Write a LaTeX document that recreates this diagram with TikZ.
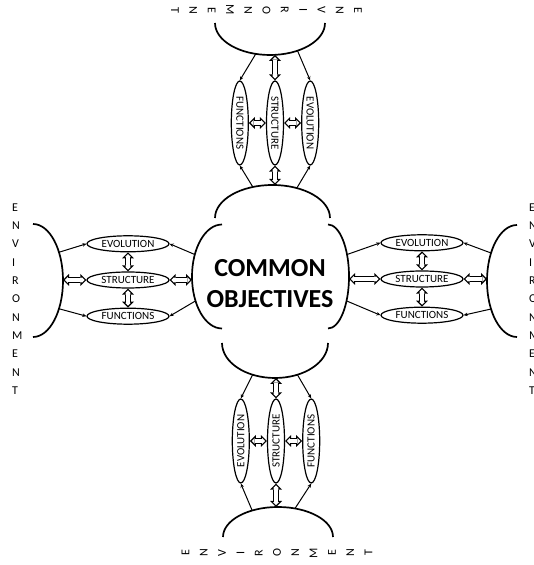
\documentclass[tikz,border=0pt]{standalone}
\usepackage{fontspec}
\setmainfont{Carlito}
\usepackage{graphicx}
\usetikzlibrary{arrows.meta, positioning, shapes.geometric}

\newcommand{\entorno}{E\\N\\V\\I\\R\\O\\N\\M\\E\\N\\T}

\begin{document}
\begin{tikzpicture}[
  x=1pt, y=1pt,
  node distance=19pt and 17pt,
  elipse/.style={draw, ellipse, line width=1.2pt, inner sep=0pt,
                 font=\fontsize{11}{12}\selectfont},
  elipseh/.style={elipse, minimum width=82pt, minimum height=16pt},
  elipsev/.style={elipse, minimum width=17pt, minimum height=84pt},
  arco/.style={line width=1.7pt},
  flecha/.style={line width=1pt, -{Stealth[length=4pt, width=3.5pt]}},
  dobleflecha/.style={line width=3.2pt, white, shorten >=1.85pt, shorten <=1.85pt,
      {Triangle[length=2.9pt, width=5.8pt, line width=0pt]}-{Triangle[length=2.9pt, width=5.8pt, line width=0pt]},
      preaction={draw, black, line width=6pt, shorten >=0pt, shorten <=0pt,
      {Triangle[length=6pt, width=12pt, line width=0pt]}-{Triangle[length=6pt, width=12pt, line width=0pt]}}},
  letras/.style={align=left, inner sep=0pt, font=\fontsize{12}{18.3}\selectfont},
  letrasgiro/.style={letras, align=center},
  centro/.style={align=center, inner sep=0pt,
                 font=\bfseries\fontsize{26}{31}\selectfont}
]
\useasboundingbox (0,0) rectangle (533,565);

% centro
\node[centro] (core) at (270,281) {COMMON\\OBJECTIVES};
\draw[arco] (215,347) arc[start angle=180, end angle=0, x radius=57.5, y radius=33];
\draw[arco] (222,222) arc[start angle=180, end angle=360, x radius=53, y radius=35];
\draw[arco] (222,340.5) arc[start angle=90, end angle=270, x radius=30, y radius=52];
\draw[arco] (328,340.5) arc[start angle=90, end angle=-90, x radius=21, y radius=52];

% entornos
\draw[arco] (33,341) arc[start angle=90, end angle=-90, x radius=30, y radius=56.5];
\draw[arco] (517,340) arc[start angle=90, end angle=270, x radius=30, y radius=56];
\draw[arco] (215,542) arc[start angle=180, end angle=360, x radius=55, y radius=32];
\draw[arco] (223,28) arc[start angle=180, end angle=0, x radius=55, y radius=30];

\node[letras, anchor=west] (txtL) at (12,266) {\entorno};
\node[letras, anchor=west] (txtR) at (529,266) {\entorno};
\node[letrasgiro, rotate=-90] (txtT) at (266.5,555) {\entorno};
\node[letrasgiro, rotate=90] (txtB) at (277,12) {\entorno};

% puntos sobre los arcos
\coordinate (eL)  at ([shift={(33,284.5)}]0:30 and 56.5);
\coordinate (eLa) at ([shift={(33,284.5)}]30:30 and 56.5);
\coordinate (eLb) at ([shift={(33,284.5)}]-30:30 and 56.5);
\coordinate (cL)  at ([shift={(222,288.5)}]180:30 and 52);
\coordinate (cLa) at ([shift={(222,288.5)}]155:30 and 52);
\coordinate (cLb) at ([shift={(222,288.5)}]208:30 and 52);
\coordinate (cR)  at ([shift={(328,288.5)}]0:21 and 52);
\coordinate (cRa) at ([shift={(328,288.5)}]25:21 and 52);
\coordinate (cRb) at ([shift={(328,288.5)}]-28:21 and 52);
\coordinate (eR)  at ([shift={(517,284)}]180:30 and 56);
\coordinate (eRa) at ([shift={(517,284)}]150:30 and 56);
\coordinate (eRb) at ([shift={(517,284)}]210:30 and 56);
\coordinate (cT)  at ([shift={(272.5,347)}]90:57.5 and 33);
\coordinate (cTa) at ([shift={(272.5,347)}]110:57.5 and 33);
\coordinate (cTb) at ([shift={(272.5,347)}]65:57.5 and 33);
\coordinate (eT)  at ([shift={(270,542)}]270:55 and 32);
\coordinate (eTa) at ([shift={(270,542)}]255:55 and 32);
\coordinate (eTb) at ([shift={(270,542)}]300:55 and 32);
\coordinate (cB)  at ([shift={(275,222)}]270:53 and 35);
\coordinate (cBa) at ([shift={(275,222)}]245:53 and 35);
\coordinate (cBb) at ([shift={(275,222)}]295:53 and 35);
\coordinate (eB)  at ([shift={(278,28)}]90:55 and 30);
\coordinate (eBa) at ([shift={(278,28)}]118:55 and 30);
\coordinate (eBb) at ([shift={(278,28)}]72:55 and 30);

% rama izquierda
\node[elipseh] (lstr) at (128,285) {STRUCTURE};
\node[elipseh, above=of lstr] (levo) {EVOLUTION};
\node[elipseh, below=of lstr] (lfun) {FUNCTIONS};

% rama derecha
\node[elipseh] (rstr) at (422,286) {STRUCTURE};
\node[elipseh, above=of rstr] (revo) {EVOLUTION};
\node[elipseh, below=of rstr] (rfun) {FUNCTIONS};

% rama superior
\node[elipsev] (tstr) at (275,442) {\rotatebox{-90}{STRUCTURE}};
\node[elipsev, left=of tstr] (tfun) {\rotatebox{-90}{FUNCTIONS}};
\node[elipsev, right=of tstr] (tevo) {\rotatebox{-90}{EVOLUTION}};

% rama inferior
\node[elipsev] (bstr) at (276,124) {\rotatebox{90}{STRUCTURE}};
\node[elipsev, left=of bstr] (bevo) {\rotatebox{90}{EVOLUTION}};
\node[elipsev, right=of bstr] (bfun) {\rotatebox{90}{FUNCTIONS}};

% flechas simples
\draw[flecha] (eLa) -- (levo.west);
\draw[flecha] (cLa) -- (levo.east);
\draw[flecha] (eLb) -- (lfun.west);
\draw[flecha] (cLb) -- (lfun.east);
\draw[flecha] (cRa) -- (revo.west);
\draw[flecha] (eRa) -- (revo.east);
\draw[flecha] (cRb) -- (rfun.west);
\draw[flecha] (eRb) -- (rfun.east);
\draw[flecha] (eTa) -- (tfun.north);
\draw[flecha] (cTa) -- (tfun.south);
\draw[flecha] (eTb) -- (tevo.north);
\draw[flecha] (cTb) -- (tevo.south);
\draw[flecha] (cBa) -- (bevo.north);
\draw[flecha] (eBa) -- (bevo.south);
\draw[flecha] (cBb) -- (bfun.north);
\draw[flecha] (eBb) -- (bfun.south);

% flechas dobles
\draw[dobleflecha] (lstr -| eL) -- (lstr.west);
\draw[dobleflecha] (lstr.east) -- (lstr -| cL);
\draw[dobleflecha] (levo) -- (lstr);
\draw[dobleflecha] (lstr) -- (lfun);
\draw[dobleflecha] (cR |- rstr) -- (rstr.west);
\draw[dobleflecha] (rstr.east) -- (eR |- rstr);
\draw[dobleflecha] (revo) -- (rstr);
\draw[dobleflecha] (rstr) -- (rfun);
\draw[dobleflecha] (eT -| tstr) -- (tstr.north);
\draw[dobleflecha] (tstr.south) -- (cT -| tstr);
\draw[dobleflecha] (tfun) -- (tstr);
\draw[dobleflecha] (tstr) -- (tevo);
\draw[dobleflecha] (cB -| bstr) -- (bstr.north);
\draw[dobleflecha] (bstr.south) -- (eB -| bstr);
\draw[dobleflecha] (bevo) -- (bstr);
\draw[dobleflecha] (bstr) -- (bfun);
\end{tikzpicture}
\end{document}
